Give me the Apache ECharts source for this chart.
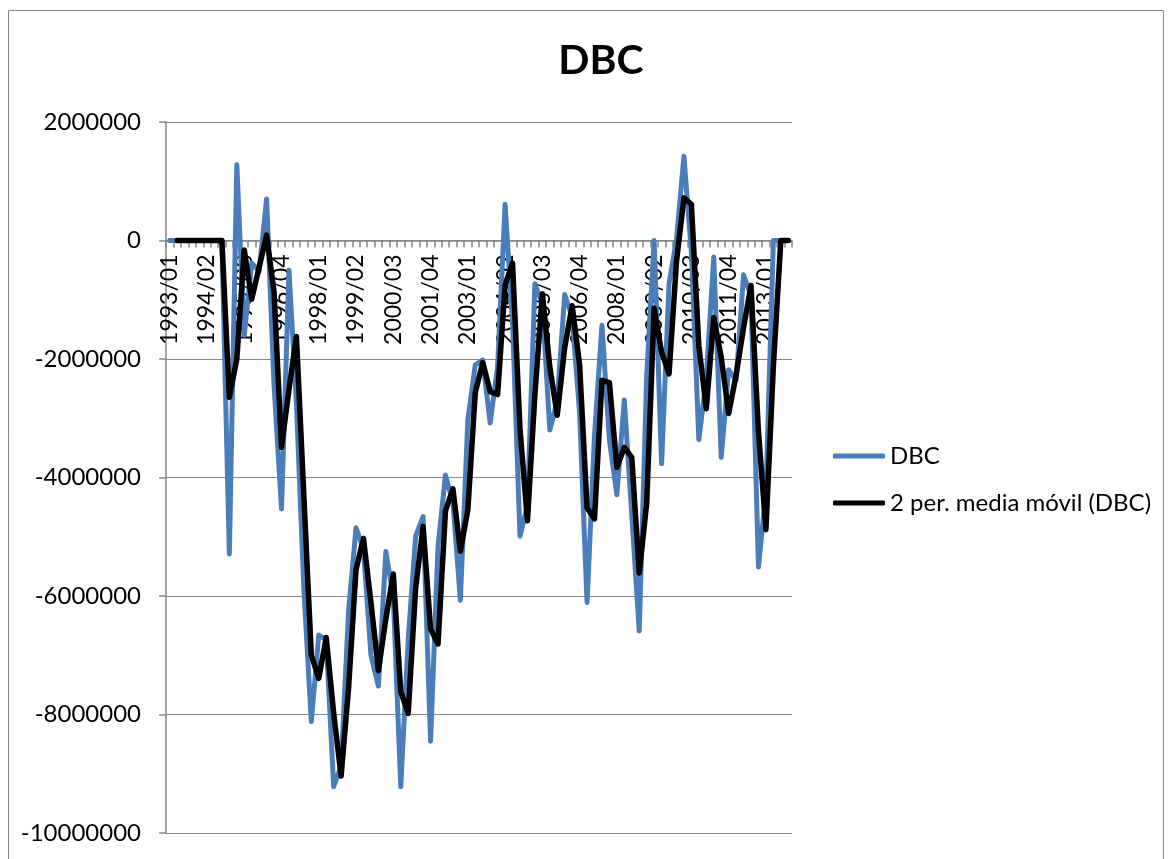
<!DOCTYPE html>
<html>
<head>
<meta charset="utf-8">
<script src="https://cdn.jsdelivr.net/npm/echarts@6/dist/echarts.min.js"></script>
<style>
  html, body { margin: 0; padding: 0; background: #ffffff; }
  #chart { width: 1172px; height: 859px; }
</style>
</head>
<body>
<div id="chart"></div>
<script>
// Quarterly periods, 1993/01 through 2013/04
const quarters = [
  '1993/01','1993/02','1993/03','1993/04',
  '1994/01','1994/02','1994/03','1994/04',
  '1995/01','1995/02','1995/03','1995/04',
  '1996/01','1996/02','1996/03','1996/04',
  '1997/01','1997/02','1997/03','1997/04',
  '1998/01','1998/02','1998/03','1998/04',
  '1999/01','1999/02','1999/03','1999/04',
  '2000/01','2000/02','2000/03','2000/04',
  '2001/01','2001/02','2001/03','2001/04',
  '2002/01','2002/02','2002/03','2002/04',
  '2003/01','2003/02','2003/03','2003/04',
  '2004/01','2004/02','2004/03','2004/04',
  '2005/01','2005/02','2005/03','2005/04',
  '2006/01','2006/02','2006/03','2006/04',
  '2007/01','2007/02','2007/03','2007/04',
  '2008/01','2008/02','2008/03','2008/04',
  '2009/01','2009/02','2009/03','2009/04',
  '2010/01','2010/02','2010/03','2010/04',
  '2011/01','2011/02','2011/03','2011/04',
  '2012/01','2012/02','2012/03','2012/04',
  '2013/01','2013/02','2013/03','2013/04'
];

// DBC quarterly values
const dbcValues = [
  0, 0, 0, 0, 0, 0, 0, 0,
  -5290000, 1280000, -1600000, -380000, -520000, 700000, -2450000, -4530000,
  -500000, -2740000, -5880000, -8120000, -6660000, -6740000, -9220000, -8860000,
  -6250000, -4850000, -5210000, -7000000, -7520000, -5250000, -6010000, -9220000,
  -6740000, -4990000, -4660000, -8450000, -5170000, -3960000, -4420000, -6070000,
  -3030000, -2100000, -2020000, -3080000, -2120000, 610000, -1370000, -4990000,
  -4470000, -730000, -1070000, -3200000, -2700000, -910000, -1290000, -2910000,
  -6110000, -3290000, -1430000, -3370000, -4290000, -2690000, -4630000, -6590000,
  -2290000, 0, -3770000, -730000, 20000, 1420000, -200000, -3360000,
  -2320000, -280000, -3660000, -2180000, -2360000, -580000, -940000, -5510000,
  -4250000, 0, 0, 0
];

// 2-period moving average of DBC (no value for the first period)
const movingAvgValues = [
  '-', 0, 0, 0, 0, 0, 0, 0,
  -2645000, -2005000, -160000, -990000, -450000, 90000, -875000, -3490000,
  -2515000, -1620000, -4310000, -7000000, -7390000, -6700000, -7980000, -9040000,
  -7555000, -5550000, -5030000, -6105000, -7260000, -6385000, -5630000, -7615000,
  -7980000, -5865000, -4825000, -6555000, -6810000, -4565000, -4190000, -5245000,
  -4550000, -2565000, -2060000, -2550000, -2600000, -755000, -380000, -3180000,
  -4730000, -2600000, -900000, -2135000, -2950000, -1805000, -1100000, -2100000,
  -4510000, -4700000, -2360000, -2400000, -3830000, -3490000, -3660000, -5610000,
  -4440000, -1145000, -1885000, -2250000, -355000, 720000, 610000, -1780000,
  -2840000, -1300000, -1970000, -2920000, -2270000, -1470000, -760000, -3225000,
  -4880000, -2125000, 0, 0
];

const seriesNames = ['DBC', '2 per. media móvil (DBC)'];
const yMin = -10000000, yMax = 2000000, yStep = 2000000;

const FONT = 'Lato, "Open Sans", sans-serif';
const GRAY = '#868686';
const BLUE = '#4A7EBB';

const W = 1172, H = 859;
const gridBox = { left: 166, right: 380, top: 122, bottom: 26 };
const plotH = H - gridBox.top - gridBox.bottom;
// Category axis sits on the value 0 line: shift it up from the grid bottom
const zeroOffset = -plotH * (0 - yMin) / (yMax - yMin);

const chart = echarts.init(document.getElementById('chart'), null, { renderer: 'canvas' });

chart.setOption({
  backgroundColor: '#ffffff',
  animation: false,
  textStyle: { fontFamily: FONT },
  title: {
    text: 'DBC',
    left: 596,
    textAlign: 'center',
    top: 35,
    textStyle: { fontFamily: FONT, fontSize: 41, fontWeight: 'bold', color: '#000000' }
  },
  graphic: [{
    type: 'rect',
    shape: { x: 8.5, y: 10.5, width: 1155, height: 900 },
    style: { fill: 'none', stroke: GRAY, lineWidth: 1 },
    silent: true,
    z: -1
  }],
  legend: [{
    data: [seriesNames[0]],
    left: 833,
    top: 444,
    padding: 0,
    icon: 'roundRect',
    itemWidth: 52,
    itemHeight: 5,
    itemGap: 5,
    textStyle: { fontFamily: FONT, fontSize: 24, color: '#000000' }
  }, {
    data: [seriesNames[1]],
    left: 833,
    top: 491,
    padding: 0,
    icon: 'roundRect',
    itemWidth: 52,
    itemHeight: 5,
    itemGap: 5,
    textStyle: { fontFamily: FONT, fontSize: 24, color: '#000000' }
  }],
  grid: {
    left: gridBox.left, right: gridBox.right, top: gridBox.top, bottom: gridBox.bottom,
    containLabel: false,
    outerBoundsMode: 'none'
  },
  xAxis: {
    type: 'category',
    data: quarters,
    boundaryGap: true,
    position: 'bottom',
    offset: zeroOffset,
    axisLine: { onZero: false, lineStyle: { color: GRAY, width: 1.5 } },
    axisTick: { show: true, interval: 0, alignWithLabel: false, length: 7, lineStyle: { color: GRAY, width: 1.5 } },
    axisLabel: {
      interval: 4,
      rotate: 90,
      margin: 14,
      fontFamily: FONT,
      fontSize: 23,
      color: '#000000'
    },
    splitLine: { show: false }
  },
  yAxis: {
    type: 'value',
    min: yMin,
    max: yMax,
    interval: yStep,
    axisLine: { show: true, lineStyle: { color: GRAY, width: 1.5 } },
    axisTick: { show: true, length: 7, lineStyle: { color: GRAY, width: 1.5 } },
    axisLabel: {
      margin: 25,
      fontFamily: FONT,
      fontSize: 24,
      color: '#000000',
      formatter: function (v) { return String(v); }
    },
    splitLine: { show: true, lineStyle: { color: GRAY, width: 1.2 } }
  },
  series: [{
    name: seriesNames[0],
    type: 'line',
    data: dbcValues,
    symbol: 'none',
    itemStyle: { color: BLUE },
    lineStyle: { color: BLUE, width: 5, cap: 'round', join: 'round' },
    z: 2
  }, {
    name: seriesNames[1],
    type: 'line',
    data: movingAvgValues,
    symbol: 'none',
    itemStyle: { color: '#000000' },
    lineStyle: { color: '#000000', width: 5.5, cap: 'round', join: 'round' },
    z: 3
  }]
});
</script>
</body>
</html>
